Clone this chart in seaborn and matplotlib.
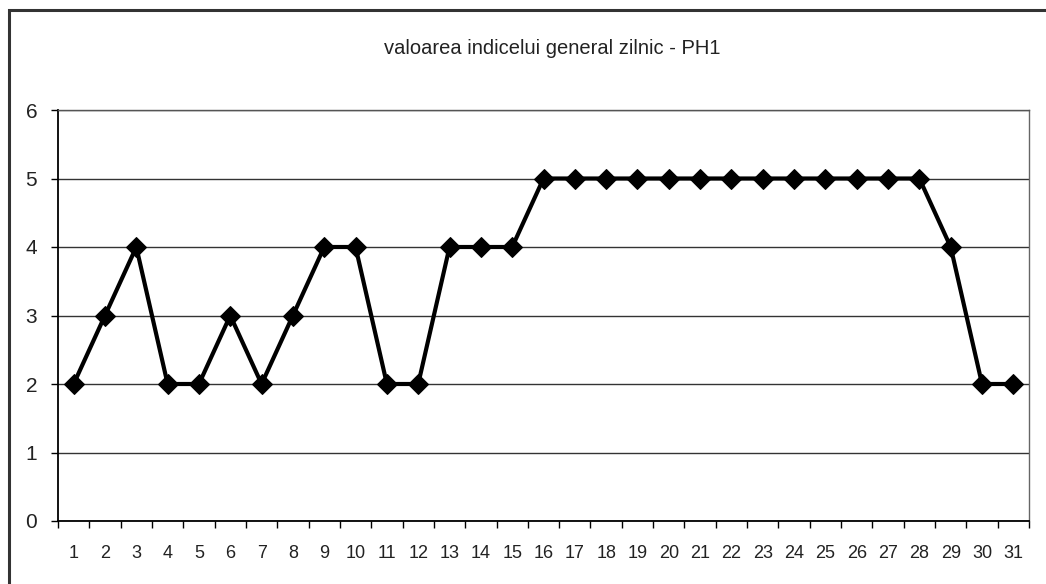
import matplotlib
matplotlib.use("Agg")
import matplotlib.pyplot as plt
import seaborn as sns
import pandas as pd
from matplotlib.patches import Rectangle
from matplotlib.ticker import FixedLocator

days = list(range(1, 32))
values = [2, 3, 4, 2, 2, 3, 2, 3, 4, 4, 2, 2, 4, 4, 4,
          5, 5, 5, 5, 5, 5, 5, 5, 5, 5, 5, 5, 5, 4, 2, 2]
title = "valoarea indicelui general zilnic - PH1"

sns.set_theme(style="white")
plt.rcParams['font.family'] = ['Liberation Sans', 'DejaVu Sans']

W, H = 1046, 584
fig = plt.figure(figsize=(W / 100, H / 100), dpi=100)
fig.patch.set_facecolor("white")
ax = fig.add_axes([58 / W, 1 - 521 / H, (1029 - 58) / W, (521 - 110) / H])

df = pd.DataFrame({"day": days, "value": values})
sns.lineplot(data=df, x="day", y="value", ax=ax, color="black", linewidth=3,
             marker="D", markersize=10.5, markeredgecolor="black",
             markerfacecolor="black")

ax.set_xlim(0.5, 31.5)
ax.set_ylim(0, 6)
ax.set_yticks(range(0, 7))
ax.set_xticks(days)
ax.set_xticklabels([str(d) for d in days])
ax.xaxis.set_minor_locator(FixedLocator([d + 0.5 for d in range(0, 32)]))
ax.tick_params(axis="x", which="major", length=0, pad=17, labelsize=13, colors="#222222")
ax.tick_params(axis="x", which="minor", length=5, width=1, color="black", direction="out", bottom=True)
ax.tick_params(axis="y", which="major", length=5, width=1, color="black", direction="out", left=True,
               pad=10, labelsize=15, labelcolor="#222222")
ax.yaxis.grid(True, color="#333333", linewidth=1)
ax.xaxis.grid(False)
ax.set_axisbelow(True)
ax.set_xlabel("")
ax.set_ylabel("")

for side in ["left", "bottom"]:
    ax.spines[side].set_color("black")
    ax.spines[side].set_linewidth(1.3)
ax.spines["right"].set_color("#666666")
ax.spines["right"].set_linewidth(1)
ax.spines["top"].set_color("#555555")
ax.spines["top"].set_linewidth(1)

fig.text(552 / W, 1 - 48 / H, title, ha="center", va="center", fontsize=14.5, color="#222222")

frame = Rectangle((9 / W, -0.05), 1.2, 1 - 10 / H + 0.05, transform=fig.transFigure,
                  fill=False, edgecolor="#333333", linewidth=2.2, clip_on=False)
fig.patches.append(frame)

fig.savefig("out.png", dpi=100, facecolor="white")
